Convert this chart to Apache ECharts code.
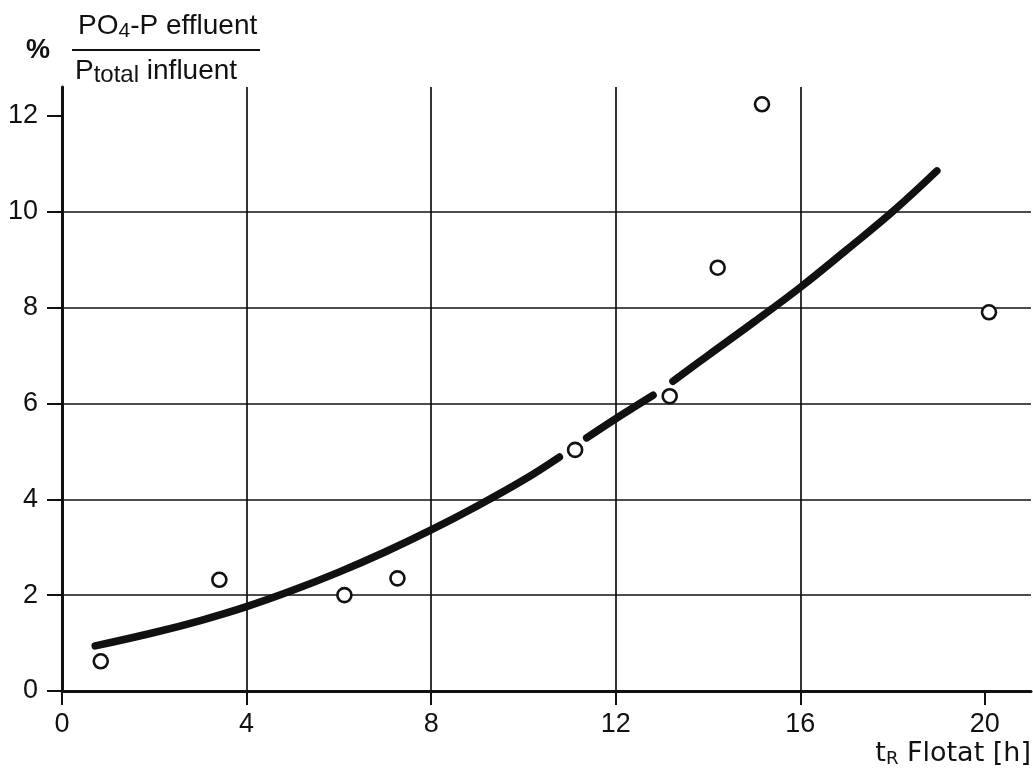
<!DOCTYPE html>
<html>
<head>
<meta charset="utf-8">
<style>
  html, body { margin: 0; padding: 0; background: #ffffff; }
  #chart { width: 1033px; height: 770px; }
</style>
<script src="https://cdn.jsdelivr.net/npm/echarts@6/dist/echarts.min.js"></script>
</head>
<body>
<div id="chart"></div>
<script>
// Measured points: retention time in flotation (h) vs. PO4-P effluent / P total influent (%)
const pointHours = [0.84, 3.41, 6.12, 7.27, 11.12, 13.17, 14.21, 15.17, 20.09];
const pointPercent = [0.62, 2.32, 2.0, 2.35, 5.03, 6.15, 8.83, 12.24, 7.9];

// Fitted trend curve, broken where it passes behind two of the points
const curveHours = [0.72, 2, 3, 4, 5, 6, 7, 8, 9, 10, 10.78, 11.08, 11.37, 12, 12.81, 13.02, 13.24, 14, 15, 16, 17, 18, 18.96];
const curvePercent = [0.94, 1.22, 1.47, 1.76, 2.1, 2.48, 2.9, 3.36, 3.86, 4.4, 4.88, null, 5.28, 5.68, 6.17, null, 6.46, 7.0, 7.7, 8.42, 9.2, 10.0, 10.85];

// Axis tick labels
const xTicks = [0, 4, 8, 12, 16, 20];
const yTicks = [0, 2, 4, 6, 8, 10, 12];

const INK = '#111111';
const tickFont = "'Liberation Sans Narrow', 'Liberation Sans', sans-serif";
const labelFont = "'Liberation Sans', Arial, sans-serif";

const chart = echarts.init(document.getElementById('chart'), null, { renderer: 'canvas' });

const option = {
  backgroundColor: '#ffffff',
  animation: false,
  grid: { left: 62, right: 2, top: 87, bottom: 79, containLabel: false },
  xAxis: {
    type: 'value',
    min: 0, max: 21, interval: 4,
    axisLine: { show: true, lineStyle: { color: INK, width: 3 } },
    axisTick: { show: true, customValues: xTicks, length: 14, lineStyle: { color: INK, width: 2 } },
    axisLabel: { customValues: xTicks, margin: 20, color: INK, fontSize: 27, fontFamily: tickFont },
    splitLine: { show: true, showMinLine: false, showMaxLine: false, lineStyle: { color: INK, width: 1.7 } }
  },
  yAxis: {
    type: 'value',
    min: 0, max: 12.6, interval: 2,
    axisLine: { show: true, lineStyle: { color: INK, width: 3 } },
    axisTick: { show: true, customValues: yTicks, length: 15, lineStyle: { color: INK, width: 2 } },
    axisLabel: { customValues: yTicks, margin: 24, color: INK, fontSize: 27, fontFamily: tickFont },
    splitLine: { show: true, showMinLine: false, showMaxLine: false, lineStyle: { color: INK, width: 1.7 } }
  },
  graphic: [
    {
      type: 'text', x: 26, y: 37, z: 10,
      style: { text: '%', font: "600 27px 'Liberation Sans', Arial, sans-serif", fill: INK }
    },
    {
      type: 'text', x: 78, y: 10, z: 10,
      style: {
        text: '{m|PO}{s|4}{m|-P effluent}',
        fill: INK,
        rich: {
          m: { fontSize: 28, fontFamily: labelFont, color: INK, lineHeight: 32 },
          s: { fontSize: 21, fontFamily: labelFont, color: INK, lineHeight: 14, verticalAlign: 'bottom' }
        }
      }
    },
    {
      type: 'line', z: 10,
      shape: { x1: 72, y1: 50, x2: 260, y2: 50 },
      style: { stroke: INK, lineWidth: 2 }
    },
    {
      type: 'text', x: 75, y: 55, z: 10,
      style: {
        text: '{m|P}{s|total}{m| influent}',
        fill: INK,
        rich: {
          m: { fontSize: 28, fontFamily: labelFont, color: INK, lineHeight: 32 },
          s: { fontSize: 24, fontFamily: labelFont, color: INK, lineHeight: 10, verticalAlign: 'bottom' }
        }
      }
    },
    {
      type: 'text', right: 2, top: 740, z: 10,
      style: {
        text: '{m|t}{s|R}{m| Flotat [h]}',
        fill: INK,
        rich: {
          m: { fontSize: 27, fontFamily: "'DejaVu Sans', sans-serif", color: INK, lineHeight: 30 },
          s: { fontSize: 18, fontFamily: "'DejaVu Sans', sans-serif", color: INK, lineHeight: 12, verticalAlign: 'bottom' }
        }
      }
    }
  ],
  series: [
    {
      type: 'line',
      data: curveHours.map((h, i) => [h, curvePercent[i]]),
      smooth: 0.4,
      connectNulls: false,
      showSymbol: false,
      lineStyle: { color: INK, width: 7.5, cap: 'round', join: 'round' },
      z: 3
    },
    {
      type: 'scatter',
      data: pointHours.map((h, i) => [h, pointPercent[i]]),
      symbol: 'circle',
      symbolSize: 14,
      itemStyle: { color: '#ffffff', borderColor: INK, borderWidth: 2.6, opacity: 1 },
      z: 4
    }
  ]
};

chart.setOption(option);
</script>
</body>
</html>
